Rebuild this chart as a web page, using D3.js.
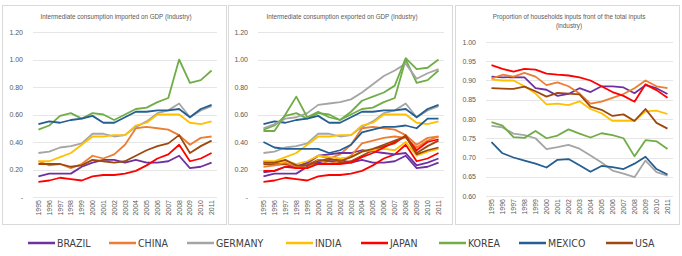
<!DOCTYPE html>
<html>
<head>
<meta charset="utf-8">
<script src="https://cdn.jsdelivr.net/npm/d3@7"></script>
<style>
  body { margin: 0; background: #fff; }
  text { font-family: "Liberation Sans", Arial, sans-serif; fill: #595959; }
</style>
</head>
<body>
<div id="chart"></div>
<script>
const years = ["1995","1996","1997","1998","1999","2000","2001","2002","2003","2004","2005","2006","2007","2008","2009","2010","2011"];
const countries = ["BRAZIL","CHINA","GERMANY","INDIA","JAPAN","KOREA","MEXICO","USA"];
const colors = ["#7030A0","#ED7D31","#A5A5A5","#FFC000","#FF0000","#70AD47","#255E91","#9E480E"];

// imported on GDP
const impBrazil  = [0.15,0.17,0.17,0.17,0.22,0.25,0.27,0.27,0.25,0.27,0.25,0.25,0.26,0.30,0.21,0.22,0.25];
const impChina   = [0.26,0.23,0.24,0.21,0.24,0.30,0.28,0.31,0.38,0.50,0.51,0.50,0.49,0.45,0.38,0.43,0.44];
const impGermany = [0.32,0.33,0.36,0.37,0.39,0.46,0.46,0.44,0.45,0.51,0.55,0.61,0.63,0.68,0.58,0.63,0.66];
const impIndia   = [0.26,0.26,0.29,0.32,0.38,0.44,0.44,0.45,0.45,0.52,0.54,0.60,0.60,0.60,0.54,0.53,0.55];
const impJapan   = [0.11,0.12,0.14,0.13,0.12,0.15,0.16,0.16,0.17,0.19,0.23,0.28,0.31,0.38,0.26,0.28,0.32];
const impKorea   = [0.49,0.52,0.59,0.61,0.57,0.61,0.60,0.56,0.60,0.64,0.65,0.69,0.72,1.00,0.83,0.85,0.92];
const impMexico  = [0.53,0.55,0.54,0.56,0.57,0.59,0.54,0.54,0.58,0.62,0.62,0.63,0.63,0.64,0.58,0.64,0.67];
const impUsa     = [0.24,0.24,0.24,0.22,0.23,0.27,0.26,0.25,0.26,0.30,0.34,0.37,0.39,0.45,0.32,0.37,0.41];

// exported on GDP
const expBrazil  = [0.18,0.19,0.22,0.22,0.25,0.30,0.31,0.32,0.32,0.34,0.33,0.32,0.31,0.32,0.23,0.25,0.28];
const expChina   = [0.22,0.23,0.25,0.22,0.21,0.27,0.24,0.26,0.30,0.39,0.41,0.43,0.44,0.43,0.36,0.41,0.44];
const expGermany = [0.50,0.53,0.57,0.58,0.61,0.67,0.68,0.69,0.71,0.76,0.82,0.88,0.92,0.97,0.86,0.90,0.93];
const expIndia   = [0.25,0.25,0.26,0.24,0.26,0.30,0.29,0.28,0.29,0.33,0.34,0.35,0.34,0.40,0.30,0.33,0.35];
const expJapan   = [0.19,0.19,0.22,0.21,0.21,0.24,0.24,0.24,0.25,0.29,0.32,0.36,0.40,0.44,0.34,0.40,0.42];
const expKorea   = [0.48,0.48,0.60,0.73,0.58,0.62,0.58,0.56,0.62,0.70,0.73,0.76,0.81,1.01,0.93,0.94,1.00];
const expMexico  = [0.40,0.36,0.35,0.35,0.35,0.35,0.32,0.34,0.38,0.47,0.49,0.51,0.51,0.52,0.50,0.57,0.57];
const expUsa     = [0.25,0.25,0.27,0.23,0.23,0.26,0.28,0.26,0.29,0.33,0.35,0.38,0.41,0.44,0.31,0.34,0.36];

// households inputs share
const hhBrazil  = [0.910,0.908,0.909,0.908,0.880,0.876,0.860,0.865,0.880,0.870,0.885,0.885,0.882,0.867,0.888,0.880,0.865];
const hhChina   = [0.905,0.915,0.910,0.920,0.910,0.888,0.895,0.885,0.866,0.840,0.845,0.855,0.865,0.880,0.900,0.885,0.880];
const hhGermany = [0.782,0.778,0.762,0.758,0.750,0.722,0.727,0.733,0.723,0.705,0.687,0.666,0.658,0.649,0.692,0.662,0.653];
const hhIndia   = [0.903,0.900,0.900,0.885,0.866,0.838,0.840,0.836,0.846,0.826,0.815,0.795,0.795,0.795,0.820,0.822,0.813];
const hhJapan   = [0.940,0.930,0.923,0.930,0.928,0.918,0.915,0.913,0.908,0.900,0.885,0.870,0.860,0.845,0.890,0.875,0.855];
const hhKorea   = [0.792,0.783,0.753,0.751,0.769,0.750,0.757,0.773,0.762,0.752,0.763,0.758,0.750,0.703,0.745,0.742,0.722];
const hhMexico  = [0.740,0.711,0.700,0.692,0.684,0.674,0.694,0.696,0.680,0.663,0.678,0.675,0.670,0.684,0.702,0.670,0.656];
const hhUsa     = [0.880,0.879,0.878,0.884,0.872,0.858,0.868,0.866,0.864,0.832,0.824,0.808,0.812,0.795,0.826,0.790,0.775];

const impSeries = [impBrazil, impChina, impGermany, impIndia, impJapan, impKorea, impMexico, impUsa];
const expSeries = [expBrazil, expChina, expGermany, expIndia, expJapan, expKorea, expMexico, expUsa];
const hhSeries  = [hhBrazil, hhChina, hhGermany, hhIndia, hhJapan, hhKorea, hhMexico, hhUsa];

const svg = d3.select("#chart").append("svg")
  .attr("width", 682).attr("height", 256);

const panels = [
  {box: [2, 5, 224, 219], plot: [33, 217, 32, 197], title: ["Intermediate consumption imported on GDP (Industry)"],
   domain: [0, 1.2], ticks: [0, 0.2, 0.4, 0.6, 0.8, 1.0, 1.2], fmt: d => d === 0 ? "-" : d3.format(".2f")(d),
   series: [impSeries]},
  {box: [228, 5, 224, 219], plot: [258, 444, 32, 197], title: ["Intermediate consumption exported on GDP (Industry)"],
   domain: [0, 1.2], ticks: [0, 0.2, 0.4, 0.6, 0.8, 1.0, 1.2], fmt: d => d === 0 ? "-" : d3.format(".2f")(d),
   series: [impSeries, expSeries]},
  {box: [455, 5, 224, 219], plot: [486, 673, 42, 196], title: ["Proportion of households inputs front of the total inputs", "(industry)"],
   domain: [0.6, 1.0], ticks: [0.6, 0.65, 0.7, 0.75, 0.8, 0.85, 0.9, 0.95, 1.0], fmt: d3.format(".2f"),
   series: [hhSeries]}
];

panels.forEach(p => {
  const g = svg.append("g");
  g.append("rect")
    .attr("x", p.box[0] + 0.5).attr("y", p.box[1] + 0.5)
    .attr("width", p.box[2]).attr("height", p.box[3])
    .attr("fill", "#fff").attr("stroke", "#D9D9D9");

  const x = d3.scalePoint().domain(years).range([p.plot[0], p.plot[1]]).padding(0.5);
  const y = d3.scaleLinear().domain(p.domain).range([p.plot[3], p.plot[2]]);

  const cx = (p.box[0] + p.box[0] + p.box[2]) / 2;
  g.selectAll(".title").data(p.title).join("text")
    .attr("x", cx + 2).attr("y", (d, i) => 19 + i * 9)
    .attr("text-anchor", "middle").style("font-size", "6.3px")
    .text(d => d);

  g.selectAll(".grid").data(p.ticks).join("line")
    .attr("x1", p.plot[0]).attr("x2", p.plot[1])
    .attr("y1", d => Math.round(y(d)) + 0.5).attr("y2", d => Math.round(y(d)) + 0.5)
    .attr("stroke", "#E6E6E6").attr("stroke-width", 1);

  g.selectAll(".ylab").data(p.ticks).join("text")
    .attr("x", p.plot[0] - 10).attr("y", d => y(d) + 2.5)
    .attr("text-anchor", "end").style("font-size", "7px")
    .text(p.fmt);

  g.selectAll(".xlab").data(years).join("text")
    .attr("transform", d => `translate(${x(d) + 2.5},${p.plot[3] + 3}) rotate(-90)`)
    .attr("text-anchor", "end").style("font-size", "7px")
    .text(d => d);

  const line = d3.line().x((d, i) => x(years[i])).y(d => y(d));
  p.series.forEach(set => {
    g.selectAll(null).data(set).join("path")
      .attr("d", line)
      .attr("fill", "none")
      .attr("stroke", (d, i) => colors[i])
      .attr("stroke-width", 1.8)
      .attr("stroke-linejoin", "round");
  });
});

// legend
const legendX = [28, 109, 187, 286, 361, 439, 519, 606];
const lg = svg.append("g");
countries.forEach((c, i) => {
  lg.append("line")
    .attr("x1", legendX[i]).attr("x2", legendX[i] + 27)
    .attr("y1", 243).attr("y2", 243)
    .attr("stroke", colors[i]).attr("stroke-width", 2.5);
  lg.append("text")
    .attr("x", legendX[i] + 29).attr("y", 247)
    .style("font-family", "'DejaVu Sans Condensed', 'Liberation Sans Narrow', sans-serif")
    .style("font-stretch", "condensed")
    .style("font-size", "10.5px").style("fill", "#404040")
    .text(c);
});
</script>
</body>
</html>
